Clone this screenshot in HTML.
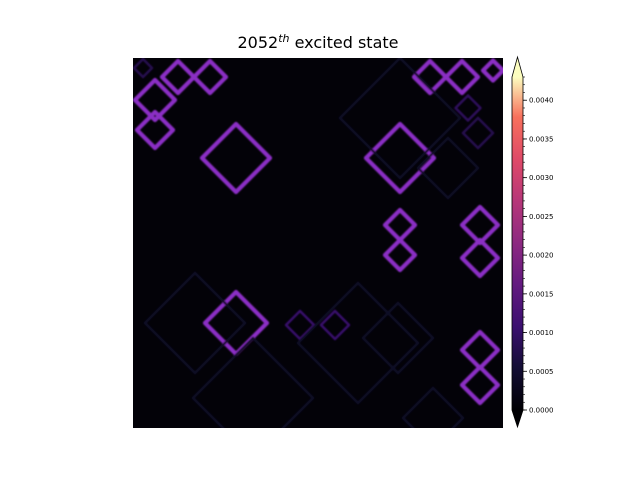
<!DOCTYPE html>
<html><head><meta charset="utf-8"><style>
body{margin:0;background:#fff;}
svg text{font-family:"DejaVu Sans","Liberation Sans",sans-serif;}
</style></head><body>
<svg id="chart" width="640" height="480" xmlns="http://www.w3.org/2000/svg">
<defs>
<linearGradient id="magma" x1="0" y1="1" x2="0" y2="0">
<stop offset="0" stop-color="#000004"/><stop offset="0.13" stop-color="#140e36"/>
<stop offset="0.25" stop-color="#3b0f70"/><stop offset="0.38" stop-color="#641a80"/>
<stop offset="0.5" stop-color="#8c2981"/><stop offset="0.63" stop-color="#b73779"/>
<stop offset="0.75" stop-color="#de4968"/><stop offset="0.88" stop-color="#f7705c"/>
<stop offset="1" stop-color="#fcfdbf"/></linearGradient>
<filter id="soft"><feGaussianBlur stdDeviation="0.8"/></filter>
</defs>
<text x="318" y="48" font-size="16" text-anchor="middle">2052<tspan dy="-6" font-size="11" font-style="italic">th</tspan><tspan dy="6"> excited state</tspan></text>
<rect x="133" y="58" width="370" height="370" fill="#030208"/>
<g id="cells" clip-path="url(#clip)" filter="url(#soft)"></g>
<clipPath id="clip"><rect x="133" y="58" width="370" height="370"/></clipPath>
<g id="cbar"></g>
</svg>
<script>
// diamond features in grid units (0..74), value in colorbar units
const diamondCx = [20.6,53.4,20.6,4.4,4.4,9,15.4,2,59.4,65.8,72,67,69,53.4,53.4,69.4,69.4,69.4,69.4,33.4,40.4,12.4,53.4,45,24,53,63,60];
const diamondCy = [20,20,53,8.4,14.4,3.8,3.8,2,3.8,3.8,2.5,10,15,33.4,39.4,33.4,40,58.4,65.4,53.4,53.4,53,12,57,68,56,22,72];
const diamondR  = [6.8,6.8,6.2,4,3.6,3.2,3.2,1.8,3.2,3.2,2,2.5,3,3,3,3.6,3.6,3.6,3.6,2.8,2.8,10,12,12,12,7,6,6];
const diamondV  = [0.0014,0.0014,0.0014,0.0013,0.0013,0.0012,0.0012,0.0006,0.0013,0.0013,0.0013,0.0007,0.0006,0.0011,0.0011,0.0015,0.0015,0.0015,0.0015,0.0008,0.0008,0.0003,0.0003,0.0003,0.0003,0.0003,0.0003,0.0003];
const cbTicks = [0,0.0005,0.001,0.0015,0.002,0.0025,0.003,0.0035,0.004];
const cbLabels = ["0.0000","0.0005","0.0010","0.0015","0.0020","0.0025","0.0030","0.0035","0.0040"];
const VMAX=0.0043;
const X0=133,Y0=58,CELL=370/74;
const xs=v=>X0+v*CELL, ys=v=>Y0+v*CELL;
const stops=[[0,[0,0,4]],[0.13,[20,14,54]],[0.25,[59,15,112]],[0.38,[100,26,128]],[0.5,[140,41,129]],[0.63,[183,55,121]],[0.75,[222,73,104]],[0.88,[247,112,92]],[1,[252,253,191]]];
function cmap(v){let t=Math.max(0,Math.min(1,v/VMAX));for(let i=1;i<stops.length;i++){if(t<=stops[i][0]){const a=stops[i-1],b=stops[i],f=(t-a[0])/(b[0]-a[0]);return 'rgb('+a[1].map((c,k)=>Math.round(c+(b[1][k]-c)*f)).join(',')+')';}}return 'rgb(252,253,191)';}
const NS='http://www.w3.org/2000/svg';
const g=document.getElementById('cells');
for(let i=0;i<diamondCx.length;i++){
  const cx=xs(diamondCx[i]),cy=ys(diamondCy[i]),r=diamondR[i]*CELL;
  const p=document.createElementNS(NS,'polygon');
  p.setAttribute('points',`${cx},${cy-r} ${cx+r},${cy} ${cx},${cy+r} ${cx-r},${cy}`);
  p.setAttribute('fill','none');
  p.setAttribute('stroke',diamondV[i]>=0.001?'#8a2fc4':cmap(diamondV[i]*1.3));
  p.setAttribute('stroke-width',diamondV[i]>=0.001?4.2:2.5);
  p.setAttribute('stroke-linejoin','round');
  
  
  g.appendChild(p);
}
const cb=document.getElementById('cbar');
const CBX=512,CBW=11,CBT=77,CBB=410;
const cy2=v=>CBB-(v/VMAX)*(CBB-CBT);
cb.innerHTML=`<rect x="${CBX}" y="${CBT}" width="${CBW}" height="${CBB-CBT}" fill="url(#magma)"/>`+
`<polygon points="${CBX},${CBB} ${CBX+CBW},${CBB} ${CBX+CBW/2},427" fill="#000004"/>`+
`<polygon points="${CBX},${CBT} ${CBX+CBW},${CBT} ${CBX+CBW/2},57" fill="#fcfdbf"/>`+
`<polygon points="${CBX},${CBT} ${CBX+CBW/2},57 ${CBX+CBW},${CBT} ${CBX+CBW},${CBB} ${CBX+CBW/2},427 ${CBX},${CBB}" fill="none" stroke="#000" stroke-width="0.8"/>`;
for(let v=0;v<=0.00431;v+=0.0001){const y=cy2(v);const l=document.createElementNS(NS,'line');l.setAttribute('x1',CBX+CBW);l.setAttribute('x2',CBX+CBW+2);l.setAttribute('y1',y);l.setAttribute('y2',y);l.setAttribute('stroke','#000');l.setAttribute('stroke-width','0.6');cb.appendChild(l);}
cbTicks.forEach((v,i)=>{const y=cy2(v);
 const l=document.createElementNS(NS,'line');l.setAttribute('x1',CBX+CBW);l.setAttribute('x2',CBX+CBW+4);l.setAttribute('y1',y);l.setAttribute('y2',y);l.setAttribute('stroke','#000');l.setAttribute('stroke-width','0.8');
 
 
 cb.appendChild(l);
 const t=document.createElementNS(NS,'text');t.setAttribute('x',CBX+CBW+6);t.setAttribute('y',y+2.5);t.setAttribute('font-size','7');t.textContent=cbLabels[i];
 
 
 cb.appendChild(t);});
</script>
</body></html>
